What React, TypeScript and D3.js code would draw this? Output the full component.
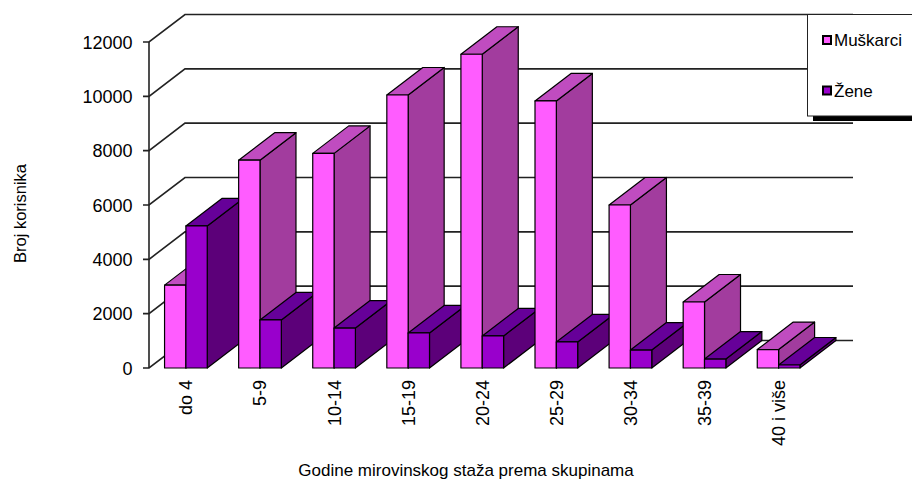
import * as d3 from 'd3';
import React, {useEffect, useRef} from 'react';

const categories = ['do 4', '5-9', '10-14', '15-19', '20-24', '25-29', '30-34', '35-39', '40 i više'];
const muskarci = [3050, 7650, 7900, 10050, 11550, 9830, 6000, 2430, 680];
const zene = [5230, 1770, 1470, 1290, 1180, 960, 660, 330, 110];
const yTicks = [0, 2000, 4000, 6000, 8000, 10000, 12000];

const seriesNames = ['Muškarci', 'Žene'];
const palettes = [
  {front: '#ff5cff', top: '#c04cc0', side: '#a23c9e'},
  {front: '#9900cc', top: '#660099', side: '#5c0079'},
];

const font = '"Liberation Sans", Arial, sans-serif';
const dx = 36;
const dy = -27.5;

export default function App() {
  const ref = useRef<SVGSVGElement>(null);

  useEffect(() => {
    const svg = d3.select(ref.current);
    svg.selectAll('*').remove();

    const x = d3.scaleBand<string>()
      .domain(categories)
      .range([149, 815.5])
      .paddingInner(0.424)
      .paddingOuter(0.21);
    const y = d3.scaleLinear().domain([0, 12000]).range([368, 42]);
    const barW = x.bandwidth() / 2;

    // back wall and side wall lines
    const grid = svg.append('g').attr('fill', 'none').attr('stroke', '#222').attr('stroke-width', 1.6);
    yTicks.forEach(t => {
      const path = d3.path();
      path.moveTo(143, y(t));
      path.lineTo(149, y(t));
      path.lineTo(149 + dx, y(t) + dy);
      path.lineTo(853, y(t) + dy);
      grid.append('path').attr('d', path.toString());
    });
    grid.append('line')
      .attr('x1', 149).attr('x2', 149)
      .attr('y1', y(12000)).attr('y2', y(0));

    const drawBar = (x0: number, value: number, colors: typeof palettes[0]) => {
      const g = svg.append('g').attr('stroke', '#000').attr('stroke-width', 1.2).attr('stroke-linejoin', 'round');
      const top = y(value);
      const bottom = y(0);
      const x1 = x0 + barW;
      const poly = (pts: number[][], fill: string) =>
        g.append('polygon').attr('points', pts.join(' ')).attr('fill', fill);
      poly([[x1, top], [x1 + dx, top + dy], [x1 + dx, bottom + dy], [x1, bottom]], colors.side);
      poly([[x0, top], [x0 + dx, top + dy], [x1 + dx, top + dy], [x1, top]], colors.top);
      poly([[x0, top], [x1, top], [x1, bottom], [x0, bottom]], colors.front);
    };

    categories.forEach((c, i) => {
      const x0 = x(c) as number;
      drawBar(x0, muskarci[i], palettes[0]);
      drawBar(x0 + barW, zene[i], palettes[1]);
    });

    svg.append('g')
      .selectAll('text')
      .data(yTicks)
      .enter()
      .append('text')
      .attr('x', 132.5)
      .attr('y', d => y(d) + 6.5)
      .attr('text-anchor', 'end')
      .attr('font-size', 18)
      .text(d => d);

    svg.append('g')
      .selectAll('text')
      .data(categories)
      .enter()
      .append('text')
      .attr('text-anchor', 'end')
      .attr('font-size', 18)
      .attr('transform', d => `translate(${(x(d) as number) + barW + 6.5},380) rotate(-90)`)
      .text(d => d);

    svg.append('text')
      .attr('transform', 'translate(26,213.5) rotate(-90)')
      .attr('text-anchor', 'middle')
      .attr('font-size', 16.5)
      .text('Broj korisnika');

    svg.append('text')
      .attr('x', 466)
      .attr('y', 475.5)
      .attr('text-anchor', 'middle')
      .attr('font-size', 17)
      .text('Godine mirovinskog staža prema skupinama');

    // legend
    const legend = svg.append('g');
    legend.append('rect').attr('x', 813).attr('y', 116).attr('width', 99).attr('height', 5).attr('fill', '#000');
    legend.append('rect')
      .attr('x', 807.5).attr('y', 14.5).attr('width', 110).attr('height', 101.5)
      .attr('fill', '#fff').attr('stroke', '#222').attr('stroke-width', 1);
    seriesNames.forEach((name, i) => {
      const ly = 40 + i * 50.5;
      legend.append('rect')
        .attr('x', 823).attr('y', ly - 4).attr('width', 8).attr('height', 8)
        .attr('fill', palettes[i].front).attr('stroke', '#000').attr('stroke-width', 2);
      legend.append('text')
        .attr('x', 834).attr('y', ly + 6)
        .attr('font-size', 17)
        .text(name);
    });
  }, []);

  return (
    <svg
      ref={ref}
      width={912}
      height={480}
      fontFamily={font}
      fill="#000"
      style={{position: 'absolute', left: 0, top: 0, background: '#fff'}}
    />
  );
}
